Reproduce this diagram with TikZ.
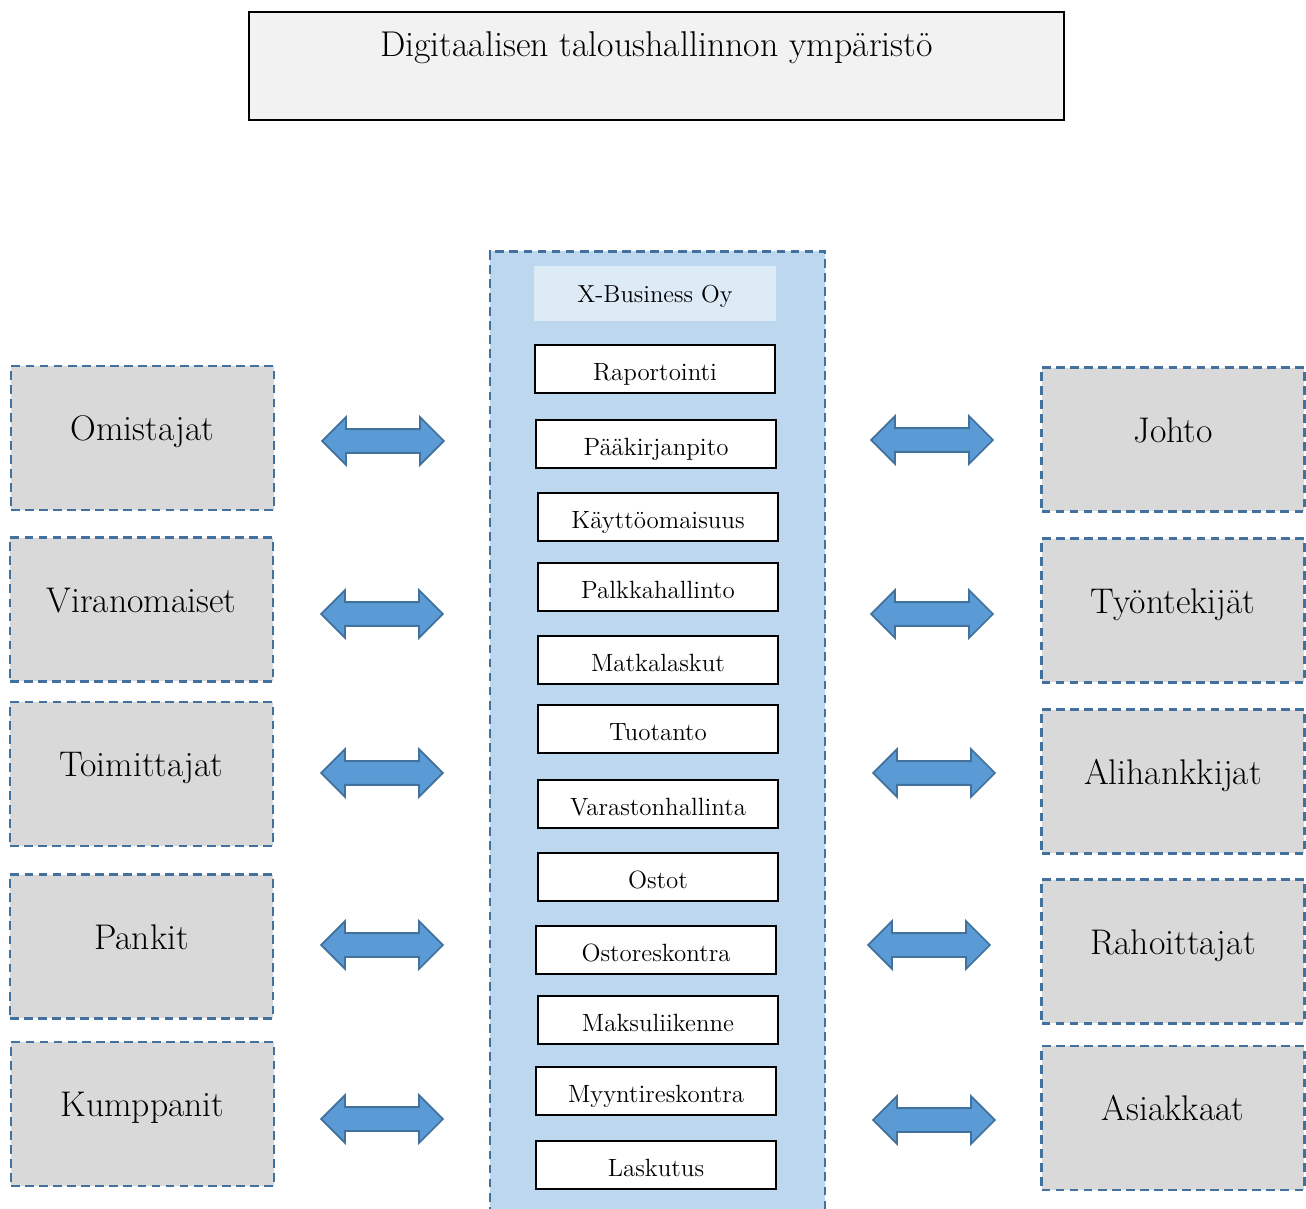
\documentclass[tikz,border=0pt]{standalone}
\usepackage{tikz}
\usetikzlibrary{shapes.arrows, positioning}

\definecolor{panelblue}{HTML}{BDD7EE}
\definecolor{headblue}{HTML}{DDEBF7}
\definecolor{edgeblue}{HTML}{41719C}
\definecolor{arrowblue}{HTML}{5B9BD5}
\definecolor{sidegray}{HTML}{D9D9D9}
\definecolor{titlegray}{HTML}{F2F2F2}

\begin{document}
\begin{tikzpicture}[
    x=0.02cm, y=-0.02cm,
    titlebox/.style={rectangle, draw=black, line width=0.8pt, fill=titlegray, minimum width=16.3cm, inner ysep=0pt, text height=0.9cm, text depth=1.26cm, font=\fontsize{20.4}{22}\selectfont},
    panel/.style={rectangle, draw=edgeblue, line width=1.6pt, dash pattern=on 5pt off 3pt, fill=panelblue, minimum width=6.7cm, minimum height=19.78cm},
    headbox/.style={rectangle, fill=headblue, minimum width=4.84cm, minimum height=1.1cm, text height=11pt, text depth=0.2pt, font=\fontsize{14}{16}\selectfont},
    item/.style={rectangle, draw=black, line width=0.8pt, fill=white, minimum width=4.8cm, minimum height=0.96cm, text height=13.6pt, text depth=0pt, font=\fontsize{14.2}{16}\selectfont},
    sidebox/.style={rectangle, draw=edgeblue, line width=1.6pt, dash pattern=on 5pt off 3pt, fill=sidegray, minimum width=5.26cm, minimum height=2.88cm, text height=10pt, text depth=7pt, font=\fontsize{20.3}{22}\selectfont},
    dblarrow/.style={double arrow, draw=edgeblue, line width=1pt, fill=arrowblue, minimum height=2.44cm, inner xsep=0pt, inner ysep=0.22cm, double arrow head extend=0.24cm},
]
    \useasboundingbox (0,0) rectangle (1306,1209);

    % Title
    \node[titlebox] (title) at (656.5,66) {Digitaalisen taloushallinnon ympäristö};

    % Company panel
    \node[panel] (panel) at (657.5,745.5) {};
    \node[headbox] (company) at (655,293.5) {X-Business Oy};

    % Functions
    \node[item] (rap) at (655,369) {Raportointi};
    \node[item] (paak) at (656,444) {Pääkirjanpito};
    \node[item] (kayt) at (658,517) {Käyttöomaisuus};
    \node[item] (palk) at (658,587) {Palkkahallinto};
    \node[item] (matk) at (658,660) {Matkalaskut};
    \node[item] (tuot) at (658,729) {Tuotanto};
    \node[item] (vara) at (658,804) {Varastonhallinta};
    \node[item] (osto) at (658,877) {Ostot};
    \node[item] (ostr) at (656,950) {Ostoreskontra};
    \node[item] (maks) at (658,1020) {Maksuliikenne};
    \node[item] (myyr) at (656,1091) {Myyntireskontra};
    \node[item] (lask) at (656,1165) {Laskutus};

    % Stakeholders, left
    \node[sidebox] (omis) at (142.5,438) {Omistajat};
    \node[sidebox] (vira) at (141.5,609.5) {Viranomaiset};
    \node[sidebox] (toim) at (141.5,774) {Toimittajat};
    \node[sidebox] (pank) at (141.5,946.5) {Pankit};
    \node[sidebox] (kump) at (142.5,1114) {Kumppanit};

    % Stakeholders, right
    \node[sidebox] (joht) at (1173,439.5) {Johto};
    \node[sidebox] (tyon) at (1173,610.5) {Työntekijät};
    \node[sidebox] (alih) at (1173,781.5) {Alihankkijat};
    \node[sidebox] (raho) at (1173,951.5) {Rahoittajat};
    \node[sidebox] (asia) at (1173,1118) {Asiakkaat};

    % Exchange arrows, left
    \node[dblarrow] (a_omis) at (383,441) {};
    \node[dblarrow] (a_vira) at (382,614) {};
    \node[dblarrow] (a_toim) at (382,773) {};
    \node[dblarrow] (a_pank) at (382,945) {};
    \node[dblarrow] (a_kump) at (382,1119) {};

    % Exchange arrows, right
    \node[dblarrow] (a_joht) at (932,440) {};
    \node[dblarrow] (a_tyon) at (932,614) {};
    \node[dblarrow] (a_alih) at (934,773) {};
    \node[dblarrow] (a_raho) at (929,945) {};
    \node[dblarrow] (a_asia) at (934,1120) {};

\end{tikzpicture}
\end{document}
